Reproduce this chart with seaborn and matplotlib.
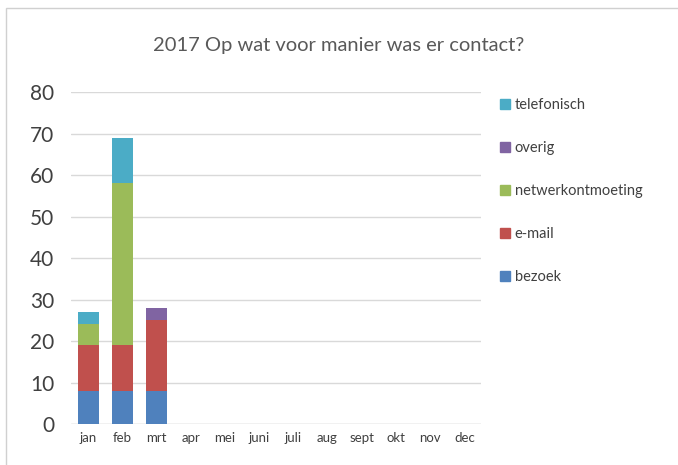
import pandas as pd
import seaborn as sns
import matplotlib.pyplot as plt
from matplotlib.patches import Rectangle, Patch

# data
months = ["jan", "feb", "mrt", "apr", "mei", "juni", "juli", "aug", "sept", "okt", "nov", "dec"]
bezoek = [8, 8, 8, 0, 0, 0, 0, 0, 0, 0, 0, 0]
email = [11, 11, 17, 0, 0, 0, 0, 0, 0, 0, 0, 0]
netwerkontmoeting = [5, 39, 0, 0, 0, 0, 0, 0, 0, 0, 0, 0]
overig = [0, 0, 3, 0, 0, 0, 0, 0, 0, 0, 0, 0]
telefonisch = [3, 11, 0, 0, 0, 0, 0, 0, 0, 0, 0, 0]

series = ["bezoek", "e-mail", "netwerkontmoeting", "overig", "telefonisch"]
colors = ["#4F81BD", "#C0504D", "#9BBB59", "#8064A2", "#4BACC6"]

df = pd.DataFrame({"maand": months, "bezoek": bezoek, "e-mail": email,
                   "netwerkontmoeting": netwerkontmoeting, "overig": overig,
                   "telefonisch": telefonisch})

sns.set_theme(style="white")
plt.rcParams["font.family"] = ["Lato", "DejaVu Sans"]

fig = plt.figure(figsize=(6.78, 4.65), dpi=100)
ax = fig.add_axes([0.105, 0.088, 0.605, 0.714])

# stacked bars: draw cumulative totals from the top series down
cum = df[series].cumsum(axis=1)
for name, col in reversed(list(zip(series, colors))):
    sns.barplot(x=df["maand"], y=cum[name], color=col, width=0.62,
                saturation=1, linewidth=0, ax=ax, zorder=3)

ax.set_ylim(0, 80)
ax.set_yticks(range(0, 81, 10))
ax.set_xlabel("")
ax.set_ylabel("")
ax.yaxis.grid(True, color="#D9D9D9", linewidth=1, zorder=0)
for s in ax.spines.values():
    s.set_visible(False)
ax.axhline(0, color="#D9D9D9", linewidth=1, zorder=1)
ax.tick_params(axis="y", labelsize=15, labelcolor="#404040", length=0, pad=12)
ax.tick_params(axis="x", labelsize=9.5, labelcolor="#404040", length=0, pad=6)

fig.text(0.5, 0.903, "2017 Op wat voor manier was er contact?", ha="center",
         va="center", fontsize=14.5, color="#595959")

handles = [Patch(color=c, label=n) for n, c in zip(series, colors)][::-1]
fig.legend(handles=handles, loc="upper left", bbox_to_anchor=(0.718, 0.818),
           frameon=False, fontsize=10.5, labelcolor="#404040",
           handlelength=0.7, handleheight=0.7, handletextpad=0.3,
           labelspacing=2.0)

# chart border
fig.patches.append(Rectangle((0.009, -0.01), 1.0, 0.993, transform=fig.transFigure,
                             fill=False, edgecolor="#D0D0D0", linewidth=1))

fig.savefig("out.png", dpi=100)
